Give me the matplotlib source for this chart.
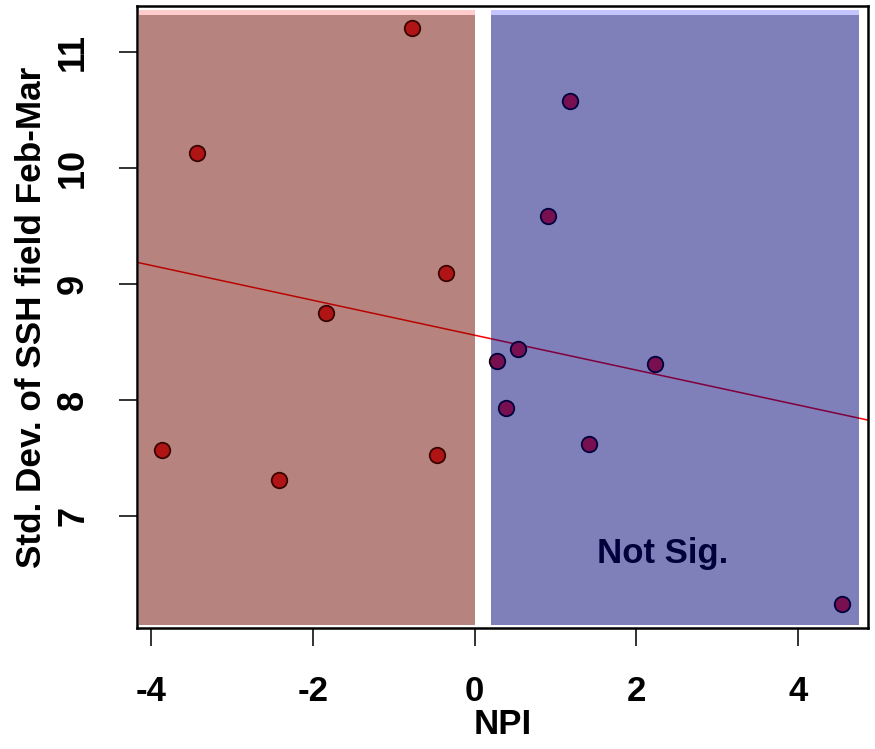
import numpy as np
import matplotlib
matplotlib.use("Agg")
import matplotlib.pyplot as plt
from matplotlib.patches import Rectangle
from matplotlib import font_manager

plt.rcParams['font.family'] = ['Liberation Sans', 'DejaVu Sans']
plt.rcParams['font.weight'] = 'bold'

npi = [-3.87, -3.43, -2.42, -1.84, -0.77, -0.46, -0.35,
       0.28, 0.39, 0.54, 0.91, 1.18, 1.42, 2.23, 4.55]
ssh_sd = [7.57, 10.13, 7.31, 8.75, 11.21, 7.53, 9.10,
          8.34, 7.93, 8.44, 9.59, 10.58, 7.62, 8.31, 6.24]
xticks = [-4, -2, 0, 2, 4]
yticks = [7, 8, 9, 10, 11]
neg_region = (-4.152, 0.006)
pos_region = (0.204, 4.759)
region_y = (6.06, 11.319, 11.362)
annot = "Not Sig."

names = {f.name for f in font_manager.fontManager.ttflist}
if 'Liberation Sans Narrow' in names:
    hfam, hsize = 'Liberation Sans Narrow', 29
else:
    hfam, hsize = 'Liberation Sans', 25
vfam, vsize = 'Liberation Sans', 26

fig = plt.figure(figsize=(8.75, 7.49), dpi=100)
ax = fig.add_axes([137/875, 1-628/749, (868-137)/875, (628-6)/749])
ax.set_xlim(-4.177, 4.869)
ax.set_ylim(6.034, 11.40)

x = np.array(npi); y = np.array(ssh_sd)
ax.scatter(x, y, s=15.5**2*0.52, c='#f0202a', edgecolors='black', linewidths=1.3, zorder=3)
slope, icpt = np.polyfit(x, y, 1)
xl = np.array(ax.get_xlim())
ax.plot(xl, icpt + slope*xl, color='#ff0000', lw=1.1, zorder=2)
ax.text(2.33, 6.68, annot, fontsize=hsize, fontweight='bold', family=hfam, color='black',
        ha='center', va='center', zorder=2)

for (x0, x1), col, light in [(neg_region, '#710901', '#ffcccc'), (pos_region, '#000077', '#c4c4ff')]:
    ax.add_patch(Rectangle((x0, region_y[0]), x1-x0, region_y[1]-region_y[0],
                           facecolor=col, alpha=0.5, edgecolor='none', zorder=4))
    ax.add_patch(Rectangle((x0, region_y[1]), x1-x0, region_y[2]-region_y[1],
                           facecolor=light, edgecolor='none', zorder=4))

ax.set_xticks(xticks)
ax.set_yticks(yticks)
ax.set_xticklabels([str(v) for v in xticks], fontsize=hsize, family=hfam, fontweight='bold')
ax.set_yticklabels([str(v) for v in yticks], rotation=90, va='center',
                   fontsize=vsize, family=vfam, fontweight='bold')
ax.tick_params(axis='both', length=13, width=1.3, color='#222222')
ax.tick_params(axis='x', pad=21)
ax.tick_params(axis='y', pad=20)
for s in ax.spines.values():
    s.set_linewidth(1.8)
ax.set_xlabel('NPI', fontsize=hsize, fontweight='bold', family=hfam, va='center')
ax.xaxis.set_label_coords(0.5, (628-725)/622)
ax.set_ylabel('Std. Dev. of SSH field Feb-Mar', fontsize=25.3, fontweight='bold',
              family=vfam, labelpad=6)

fig.savefig('out.png', dpi=100)
